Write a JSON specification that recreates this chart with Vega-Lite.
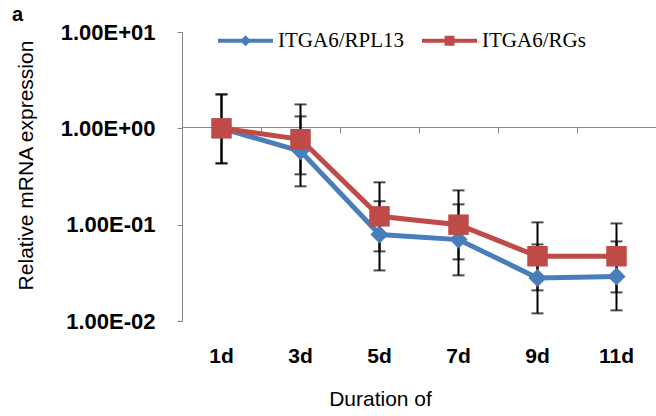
{
  "$schema": "https://vega.github.io/schema/vega-lite/v6.json",
  "width": 474,
  "height": 289,
  "autosize": "none",
  "padding": {"left": 182, "top": 32, "right": 0, "bottom": 95},
  "background": "white",
  "title": {"text": "a", "anchor": "start", "frame": "group", "dx": -170, "dy": 38, "offset": 10, "baseline": "alphabetic", "font": "Liberation Sans", "fontSize": 20, "fontWeight": "bold", "color": "black"},
  "config": {
    "view": {"stroke": null},
    "axis": {"grid": false}
  },
  "data": {"values": [
    {"day": "1d", "series": "ITGA6/RPL13", "value": 1, "lo": 0.433, "hi": 2.25},
    {"day": "3d", "series": "ITGA6/RPL13", "value": 0.58, "lo": 0.25, "hi": 1.33},
    {"day": "5d", "series": "ITGA6/RPL13", "value": 0.079, "lo": 0.0335, "hi": 0.175},
    {"day": "7d", "series": "ITGA6/RPL13", "value": 0.07, "lo": 0.0298, "hi": 0.1625},
    {"day": "9d", "series": "ITGA6/RPL13", "value": 0.028, "lo": 0.012, "hi": 0.0624},
    {"day": "11d", "series": "ITGA6/RPL13", "value": 0.029, "lo": 0.0129, "hi": 0.067},
    {"day": "1d", "series": "ITGA6/RGs", "value": 1, "lo": 0.433, "hi": 2.25},
    {"day": "3d", "series": "ITGA6/RGs", "value": 0.77, "lo": 0.333, "hi": 1.77},
    {"day": "5d", "series": "ITGA6/RGs", "value": 0.122, "lo": 0.0528, "hi": 0.275},
    {"day": "7d", "series": "ITGA6/RGs", "value": 0.1, "lo": 0.0436, "hi": 0.227},
    {"day": "9d", "series": "ITGA6/RGs", "value": 0.047, "lo": 0.0208, "hi": 0.1057},
    {"day": "11d", "series": "ITGA6/RGs", "value": 0.047, "lo": 0.0198, "hi": 0.103}
  ]},
  "encoding": {
    "x": {"field": "day", "type": "nominal", "sort": ["1d", "3d", "5d", "7d", "9d", "11d"],
      "scale": {"type": "band", "paddingInner": 0, "paddingOuter": 0}, "axis": null}
  },
  "layer": [
    {
      "mark": {"type": "rule", "color": "black", "strokeWidth": 2},
      "encoding": {
        "x": {"field": "day", "type": "nominal", "sort": ["1d", "3d", "5d", "7d", "9d", "11d"],
          "axis": {"orient": "bottom", "domain": false, "ticks": false, "tickSize": 0, "labelPadding": 24, "labelAngle": 0,
            "labelFont": "Liberation Sans", "labelFontSize": 21, "labelFontWeight": "bold", "labelColor": "black",
            "title": "Duration of", "titleFont": "Liberation Sans", "titleFontSize": 21, "titleFontWeight": "normal", "titleColor": "black", "titlePadding": 22, "titleX": 198}},
        "y": {"field": "lo", "type": "quantitative",
          "scale": {"type": "log", "domain": [0.01, 10], "nice": false},
          "axis": {"values": [0.01, 0.1, 1, 10], "domainColor": "#868686", "domainWidth": 1, "tickColor": "#868686", "tickSize": 5, "labelPadding": 22,
            "labelExpr": "datum.value >= 9 ? '1.00E+01' : datum.value >= 0.9 ? '1.00E+00' : datum.value >= 0.09 ? '1.00E-01' : '1.00E-02'",
            "labelFont": "Liberation Sans", "labelFontSize": 22, "labelFontWeight": "bold", "labelColor": "black",
            "title": "Relative mRNA expression", "titleFont": "Liberation Sans", "titleFontSize": 21, "titleFontWeight": "normal", "titleColor": "black", "titlePadding": 24, "titleY": 133}},
        "y2": {"field": "hi"}
      }
    },
    {
      "mark": {"type": "tick", "color": "black", "thickness": 2, "size": 12},
      "encoding": {
        "x": {"field": "day", "type": "nominal", "sort": ["1d", "3d", "5d", "7d", "9d", "11d"],
          "axis": {"orient": "top", "offset": -95, "labels": false, "title": null, "domainColor": "#868686", "domainWidth": 1,
            "tickColor": "#868686", "tickSize": -6, "bandPosition": 1, "tickExtra": true}},
        "y": {"field": "lo", "type": "quantitative"}
      }
    },
    {
      "mark": {"type": "tick", "color": "black", "thickness": 2, "size": 12},
      "encoding": {
        "y": {"field": "hi", "type": "quantitative"}
      }
    },
    {
      "mark": {"type": "line", "strokeWidth": 5},
      "encoding": {
        "y": {"field": "value", "type": "quantitative"},
        "color": {"field": "series", "type": "nominal",
          "scale": {"domain": ["ITGA6/RPL13", "ITGA6/RGs"], "range": ["#4A7EBB", "#BE4B48"]},
          "legend": {"orient": "none", "legendX": 36, "legendY": -19, "direction": "horizontal", "title": null,
            "symbolSize": 3025, "labelOffset": 5, "columnPadding": 18,
            "labelFont": "Liberation Serif", "labelFontSize": 21, "labelColor": "black",
            "encode": {"symbols": {"update": {
              "shape": {"signal": "datum.value === 'ITGA6/RPL13' ? 'M-1,-0.075H1V0.075H-1Z M0,-0.2L0.2,0L0,0.2L-0.2,0Z' : 'M-1,-0.075H1V0.075H-1Z M-0.18,-0.18H0.18V0.18H-0.18Z'"},
              "fill": {"scale": "color", "field": "value"},
              "stroke": {"value": "transparent"},
              "strokeWidth": {"value": 0},
              "opacity": {"value": 1}
            }}}}
        }
      }
    },
    {
      "transform": [{"filter": "datum.series === 'ITGA6/RPL13'"}],
      "mark": {"type": "point", "filled": true, "opacity": 1, "shape": "diamond", "size": 330},
      "encoding": {
        "y": {"field": "value", "type": "quantitative"},
        "color": {"field": "series", "type": "nominal"}
      }
    },
    {
      "transform": [{"filter": "datum.series === 'ITGA6/RGs'"}],
      "mark": {"type": "point", "filled": true, "opacity": 1, "shape": "square", "size": 420},
      "encoding": {
        "y": {"field": "value", "type": "quantitative"},
        "color": {"field": "series", "type": "nominal"}
      }
    }
  ]
}
